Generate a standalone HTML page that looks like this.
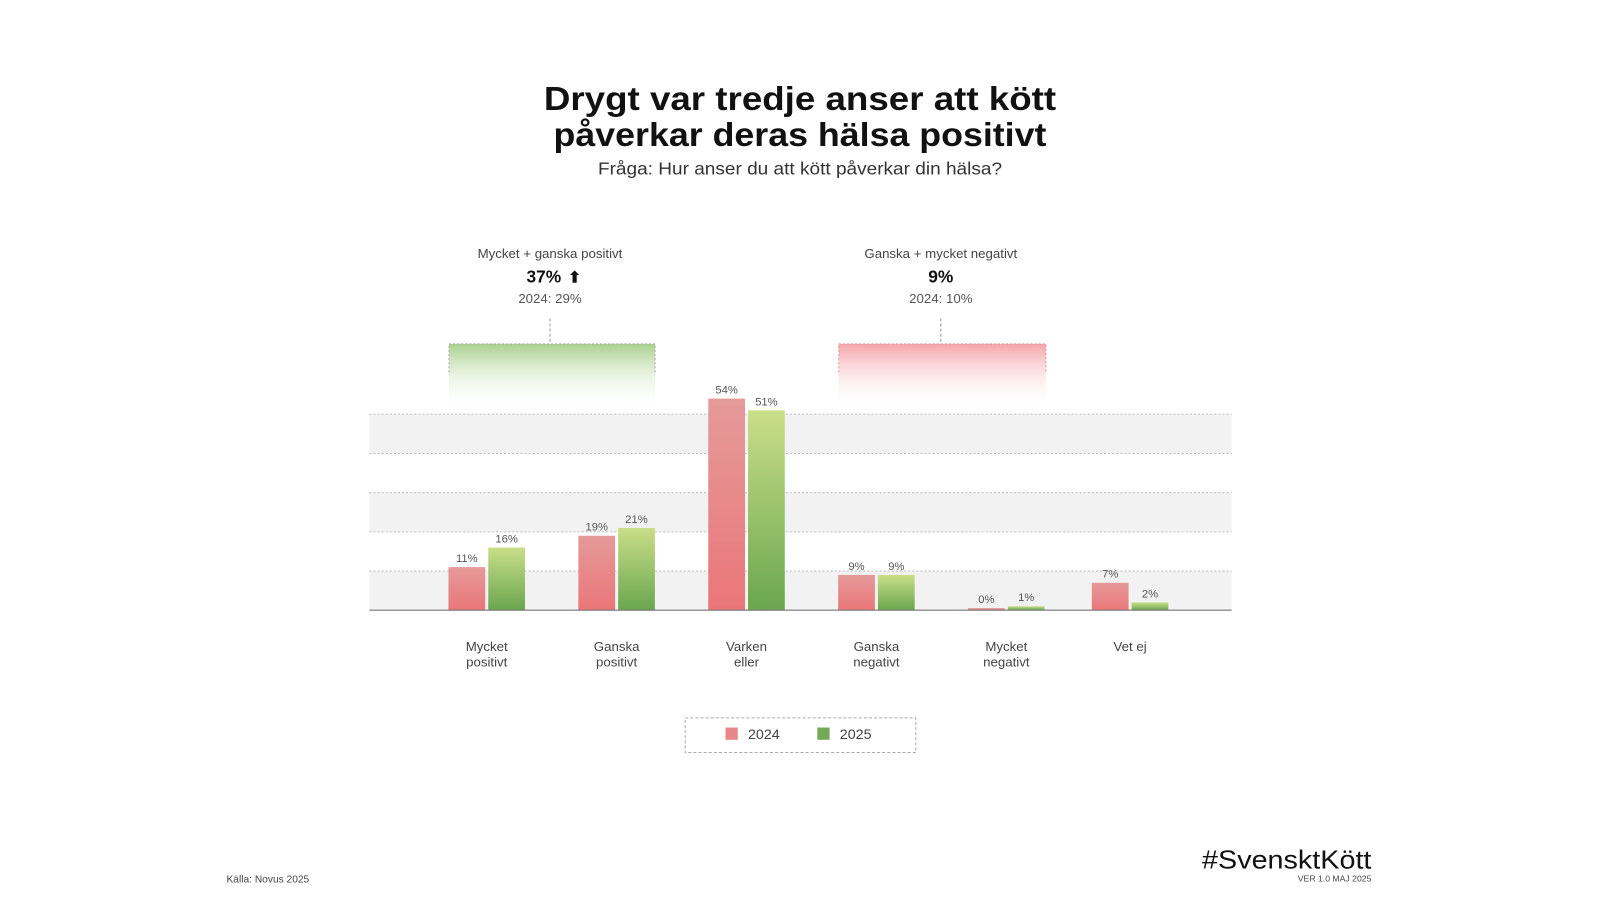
<!DOCTYPE html>
<html><head><meta charset="utf-8"><style>
body{margin:0;background:#fff;font-family:"Liberation Sans",sans-serif;}
</style></head><body>
<svg width="1600" height="900" xmlns="http://www.w3.org/2000/svg">
<defs>
<linearGradient id="gp" x1="0" y1="0" x2="0" y2="1"><stop offset="0" stop-color="#e59a9a"/><stop offset="1" stop-color="#ea7678"/></linearGradient>
<linearGradient id="gg" x1="0" y1="0" x2="0" y2="1"><stop offset="0" stop-color="#cade88"/><stop offset="1" stop-color="#6aa64f"/></linearGradient>
<linearGradient id="bg" x1="0" y1="0" x2="0" y2="1"><stop offset="0" stop-color="#a9d08e"/><stop offset="1" stop-color="#fff" stop-opacity="0"/></linearGradient>
<linearGradient id="bp" x1="0" y1="0" x2="0" y2="1"><stop offset="0" stop-color="#f4a5aa"/><stop offset="1" stop-color="#fff" stop-opacity="0"/></linearGradient>
</defs>
<g transform="scale(1.0204)">
<text x="784" y="108" text-anchor="middle" font-size="33" font-weight="bold" fill="#111" textLength="502" lengthAdjust="spacingAndGlyphs">Drygt var tredje anser att kött</text>
<text x="784" y="143" text-anchor="middle" font-size="33" font-weight="bold" fill="#111" textLength="483" lengthAdjust="spacingAndGlyphs">påverkar deras hälsa positivt</text>
<text x="784" y="171" text-anchor="middle" font-size="17" fill="#333" textLength="396" lengthAdjust="spacingAndGlyphs">Fråga: Hur anser du att kött påverkar din hälsa?</text>
<g id="grid"></g>
<g>
<text x="539" y="253" text-anchor="middle" font-size="13" fill="#444">Mycket + ganska positivt</text>
<text x="533" y="277" text-anchor="middle" font-size="17" font-weight="bold" fill="#111">37%</text>
<text x="563" y="277" text-anchor="middle" font-size="15" font-weight="bold" fill="#111">⬆</text>
<text x="539" y="297" text-anchor="middle" font-size="13" fill="#555">2024: 29%</text>
<line x1="539" y1="312" x2="539" y2="336" stroke="#999" stroke-dasharray="3,2"/>
<rect x="440" y="337" width="202" height="64" fill="url(#bg)"/>
<path d="M440 365V337H642V365" fill="none" stroke="#aaa" stroke-dasharray="2,2"/>
</g>
<g>
<text x="922" y="253" text-anchor="middle" font-size="13" fill="#444">Ganska + mycket negativt</text>
<text x="922" y="277" text-anchor="middle" font-size="17" font-weight="bold" fill="#111">9%</text>
<text x="922" y="297" text-anchor="middle" font-size="13" fill="#555">2024: 10%</text>
<line x1="922" y1="312" x2="922" y2="336" stroke="#999" stroke-dasharray="3,2"/>
<rect x="822" y="337" width="203" height="64" fill="url(#bp)"/>
<path d="M822 365V337H1025V365" fill="none" stroke="#d99" stroke-dasharray="2,2"/>
</g>
<g id="bars"></g>
<line x1="362" y1="598" x2="1207" y2="598" stroke="#777" stroke-width="1.2"/>
<g>
<rect x="671.5" y="703.5" width="226" height="34" fill="none" stroke="#aaa" stroke-dasharray="3,2"/>
<rect x="711" y="713" width="12" height="12" fill="#e8878a"/>
<text x="733" y="724" font-size="14" fill="#444">2024</text>
<rect x="801" y="713" width="12" height="12" fill="#74aa55"/>
<text x="823" y="724" font-size="14" fill="#444">2025</text>
</g>
<text x="222" y="865" font-size="10" fill="#444">Källa: Novus 2025</text>
<text x="1344" y="851" text-anchor="end" font-size="25" fill="#111" textLength="166" lengthAdjust="spacingAndGlyphs">#SvensktKött</text>
<text x="1344" y="864" text-anchor="end" font-size="8.5" fill="#444">VER 1.0 MAJ 2025</text>
</g>
</svg>
<script>
const categories=[["Mycket","positivt"],["Ganska","positivt"],["Varken","eller"],["Ganska","negativt"],["Mycket","negativt"],["Vet ej"]];
const values2024=[11,19,54,9,0,7];
const values2025=[16,21,51,9,1,2];
const gridTicks=[10,20,30,40,50];
const NS="http://www.w3.org/2000/svg";
const y0=598,pxPer=3.84;
function y(v){return y0-v*pxPer;}
function cx(i){return 477+127.3*i-(i===5?6:0);}
function mk(t,a,p){const e=document.createElementNS(NS,t);for(const k in a)e.setAttribute(k,a[k]);p.appendChild(e);return e;}
const grid=document.getElementById('grid');
[[0,10],[20,30],[40,50]].forEach(b=>{
 const r=mk('rect',{x:362,y:y(b[1]),width:845,height:y(b[0])-y(b[1]),fill:'#f2f2f2'},grid);
 
 
});
gridTicks.forEach(t=>{
 const l=mk('line',{x1:362,x2:1207,y1:y(t),y2:y(t),stroke:'#bbb','stroke-dasharray':'2,2'},grid);
 
 
});
const bars=document.getElementById('bars');
categories.forEach((c,i)=>{
 const c0=cx(i);
 [[values2024,'url(#gp)',c0-37.5,'2024'],[values2025,'url(#gg)',c0+1.5,'2025']].forEach(s=>{
  const v=s[0][i];const h=Math.max(v*pxPer,2);
  const r=mk('rect',{x:s[2],y:y0-h,width:36,height:h,fill:s[1]},bars);
  
  
  const t=mk('text',{x:s[2]+18,y:y0-h-5,'text-anchor':'middle','font-size':11,fill:'#555'},bars);
  t.textContent=v+'%';
  
  
 });
 c.forEach((w,j)=>{
  const t=mk('text',{x:c0,y:638+j*15,'text-anchor':'middle','font-size':13,fill:'#444'},bars);
  t.textContent=w;
  
  
 });
});
</script>
</body></html>
